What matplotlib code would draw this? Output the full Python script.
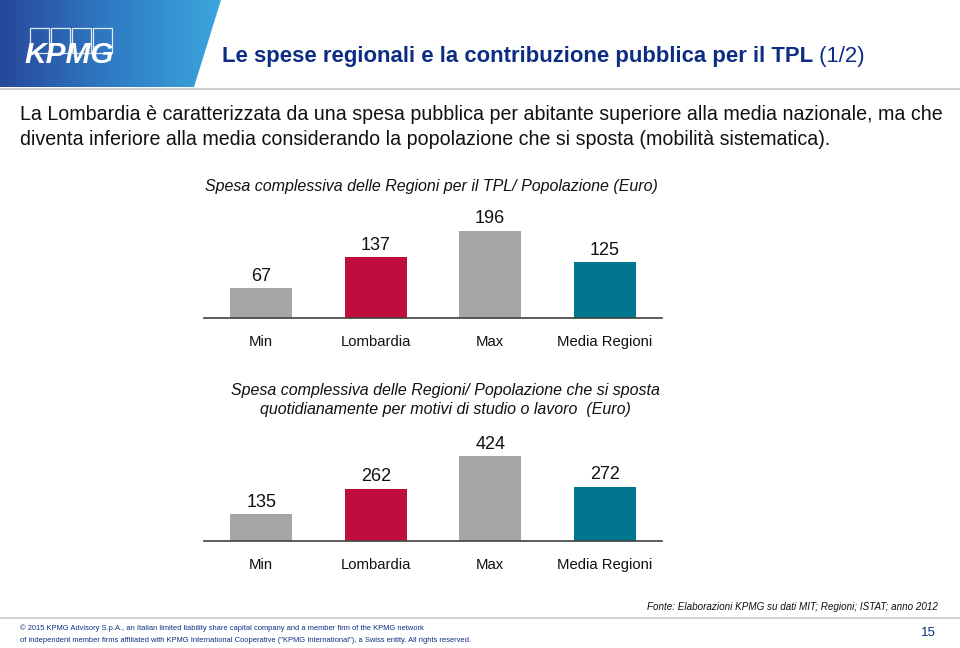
import matplotlib
matplotlib.use("Agg")
import matplotlib.pyplot as plt
import numpy as np
from matplotlib.patches import Polygon, Rectangle
from matplotlib.colors import LinearSegmentedColormap

plt.rcParams['font.family'] = ['Liberation Sans', 'DejaVu Sans']

categories = ["Min", "Lombardia", "Max", "Media Regioni"]
values_pop = [67, 137, 196, 125]
values_pend = [135, 262, 424, 272]
bar_colors = ["#a6a6a6", "#c00d3d", "#a6a6a6", "#00778f"]

title_main = "Le spese regionali e la contribuzione pubblica per il TPL"
title_suffix = " (1/2)"
body_lines = ["La Lombardia è caratterizzata da una spesa pubblica per abitante superiore alla media nazionale, ma che",
              "diventa inferiore alla media considerando la popolazione che si sposta (mobilità sistematica)."]
chart1_title = "Spesa complessiva delle Regioni per il TPL/ Popolazione (Euro)"
chart2_title = "Spesa complessiva delle Regioni/ Popolazione che si sposta\nquotidianamente per motivi di studio o lavoro  (Euro)"
source = "Fonte: Elaborazioni KPMG su dati MIT; Regioni; ISTAT; anno 2012"
footer = ["© 2015 KPMG Advisory S.p.A., an Italian limited liability share capital company and a member firm of the KPMG network",
          "of independent member firms affiliated with KPMG International Cooperative (\"KPMG International\"), a Swiss entity. All rights reserved."]
page = "15"

W, H = 960, 648
fig = plt.figure(figsize=(9.6, 6.48), dpi=100)
fig.patch.set_facecolor("white")

bg = fig.add_axes([0, 0, 1, 1])
bg.set_xlim(0, W)
bg.set_ylim(H, 0)
bg.axis("off")

# header gradient band
grad = np.linspace(0, 1, 256).reshape(1, -1)
cmap = LinearSegmentedColormap.from_list("hdr", ["#27479a", "#2f7cc4", "#3ba6dc"])
im = bg.imshow(grad, cmap=cmap, extent=(0, 222, 87, 0), aspect="auto", zorder=1)
poly = Polygon([(0, 0), (221, 0), (194, 87), (0, 87)], closed=True, transform=bg.transData)
im.set_clip_path(poly)
bg.plot([0, W], [88.5, 88.5], color="#d0d0d0", lw=1.5, zorder=2)

# KPMG logo
for i in range(4):
    bg.add_patch(Rectangle((30 + i * 21, 28), 19, 25, fill=False, ec="#dfe8f5", lw=0.9, zorder=3))
bg.text(24, 63, "KPMG", color="white", fontsize=21.5, fontweight="bold", fontstyle="italic",
        ha="left", va="baseline", zorder=4)

# title
t = bg.text(222, 62, title_main, color="#0c2d83", fontsize=15.9, fontweight="bold", ha="left", va="baseline")
fig.canvas.draw()
bb = t.get_window_extent()
xd = bg.transData.inverted().transform((bb.x1, bb.y0))[0]
bg.text(xd, 62, title_suffix, color="#0c2d83", fontsize=15.9, ha="left", va="baseline")

# body text
bg.text(20, 120, body_lines[0], fontsize=14.1, color="#111111", ha="left", va="baseline")
bg.text(20, 145, body_lines[1], fontsize=14.1, color="#111111", ha="left", va="baseline")

# chart titles
bg.text(431, 186, chart1_title, fontsize=11.5, fontstyle="italic", ha="center", va="center", color="#111111")
bg.text(445, 400, chart2_title, fontsize=11.5, fontstyle="italic", ha="center", va="center",
        color="#111111", linespacing=1.32)

def bar_chart(y_base, y_top, ymax, vals):
    ax = fig.add_axes([204 / W, 1 - y_base / H, 458 / W, (y_base - y_top) / H])
    x = np.arange(len(categories))
    ax.bar(x, vals, width=0.54, color=bar_colors, zorder=2)
    ax.set_xlim(-0.5, 3.5)
    ax.set_ylim(0, ymax)
    for s in ["top", "right", "left"]:
        ax.spines[s].set_visible(False)
    ax.spines["bottom"].set_color("#404040")
    ax.spines["bottom"].set_linewidth(1.2)
    ax.set_yticks([])
    ax.set_xticks(x)
    ax.set_xticklabels(categories, fontsize=10.7, color="#111111")
    ax.tick_params(axis="x", length=0, pad=12.5)
    ax.patch.set_alpha(0)
    for xi, v in zip(x, vals):
        ax.annotate(str(v), (xi, v), xytext=(0, 2.3), textcoords="offset points",
                    ha="center", va="bottom", fontsize=13, color="#111111")
    return ax

bar_chart(318, 200, 118 / 0.446, values_pop)
bar_chart(541, 430, 111 / 0.2, values_pend)

# footer
bg.text(938, 607, source, fontsize=7.15, fontstyle="italic", ha="right", va="center", color="#111111")
bg.plot([0, W], [617.5, 617.5], color="#c8c8c8", lw=1.2)
bg.text(20, 628, footer[0], fontsize=5.4, ha="left", va="center", color="#0c2d83")
bg.text(20, 640, footer[1], fontsize=5.4, ha="left", va="center", color="#0c2d83")
bg.text(928, 633, page, fontsize=9.5, ha="center", va="center", color="#0c2d83")

fig.savefig("out.png", dpi=100)
